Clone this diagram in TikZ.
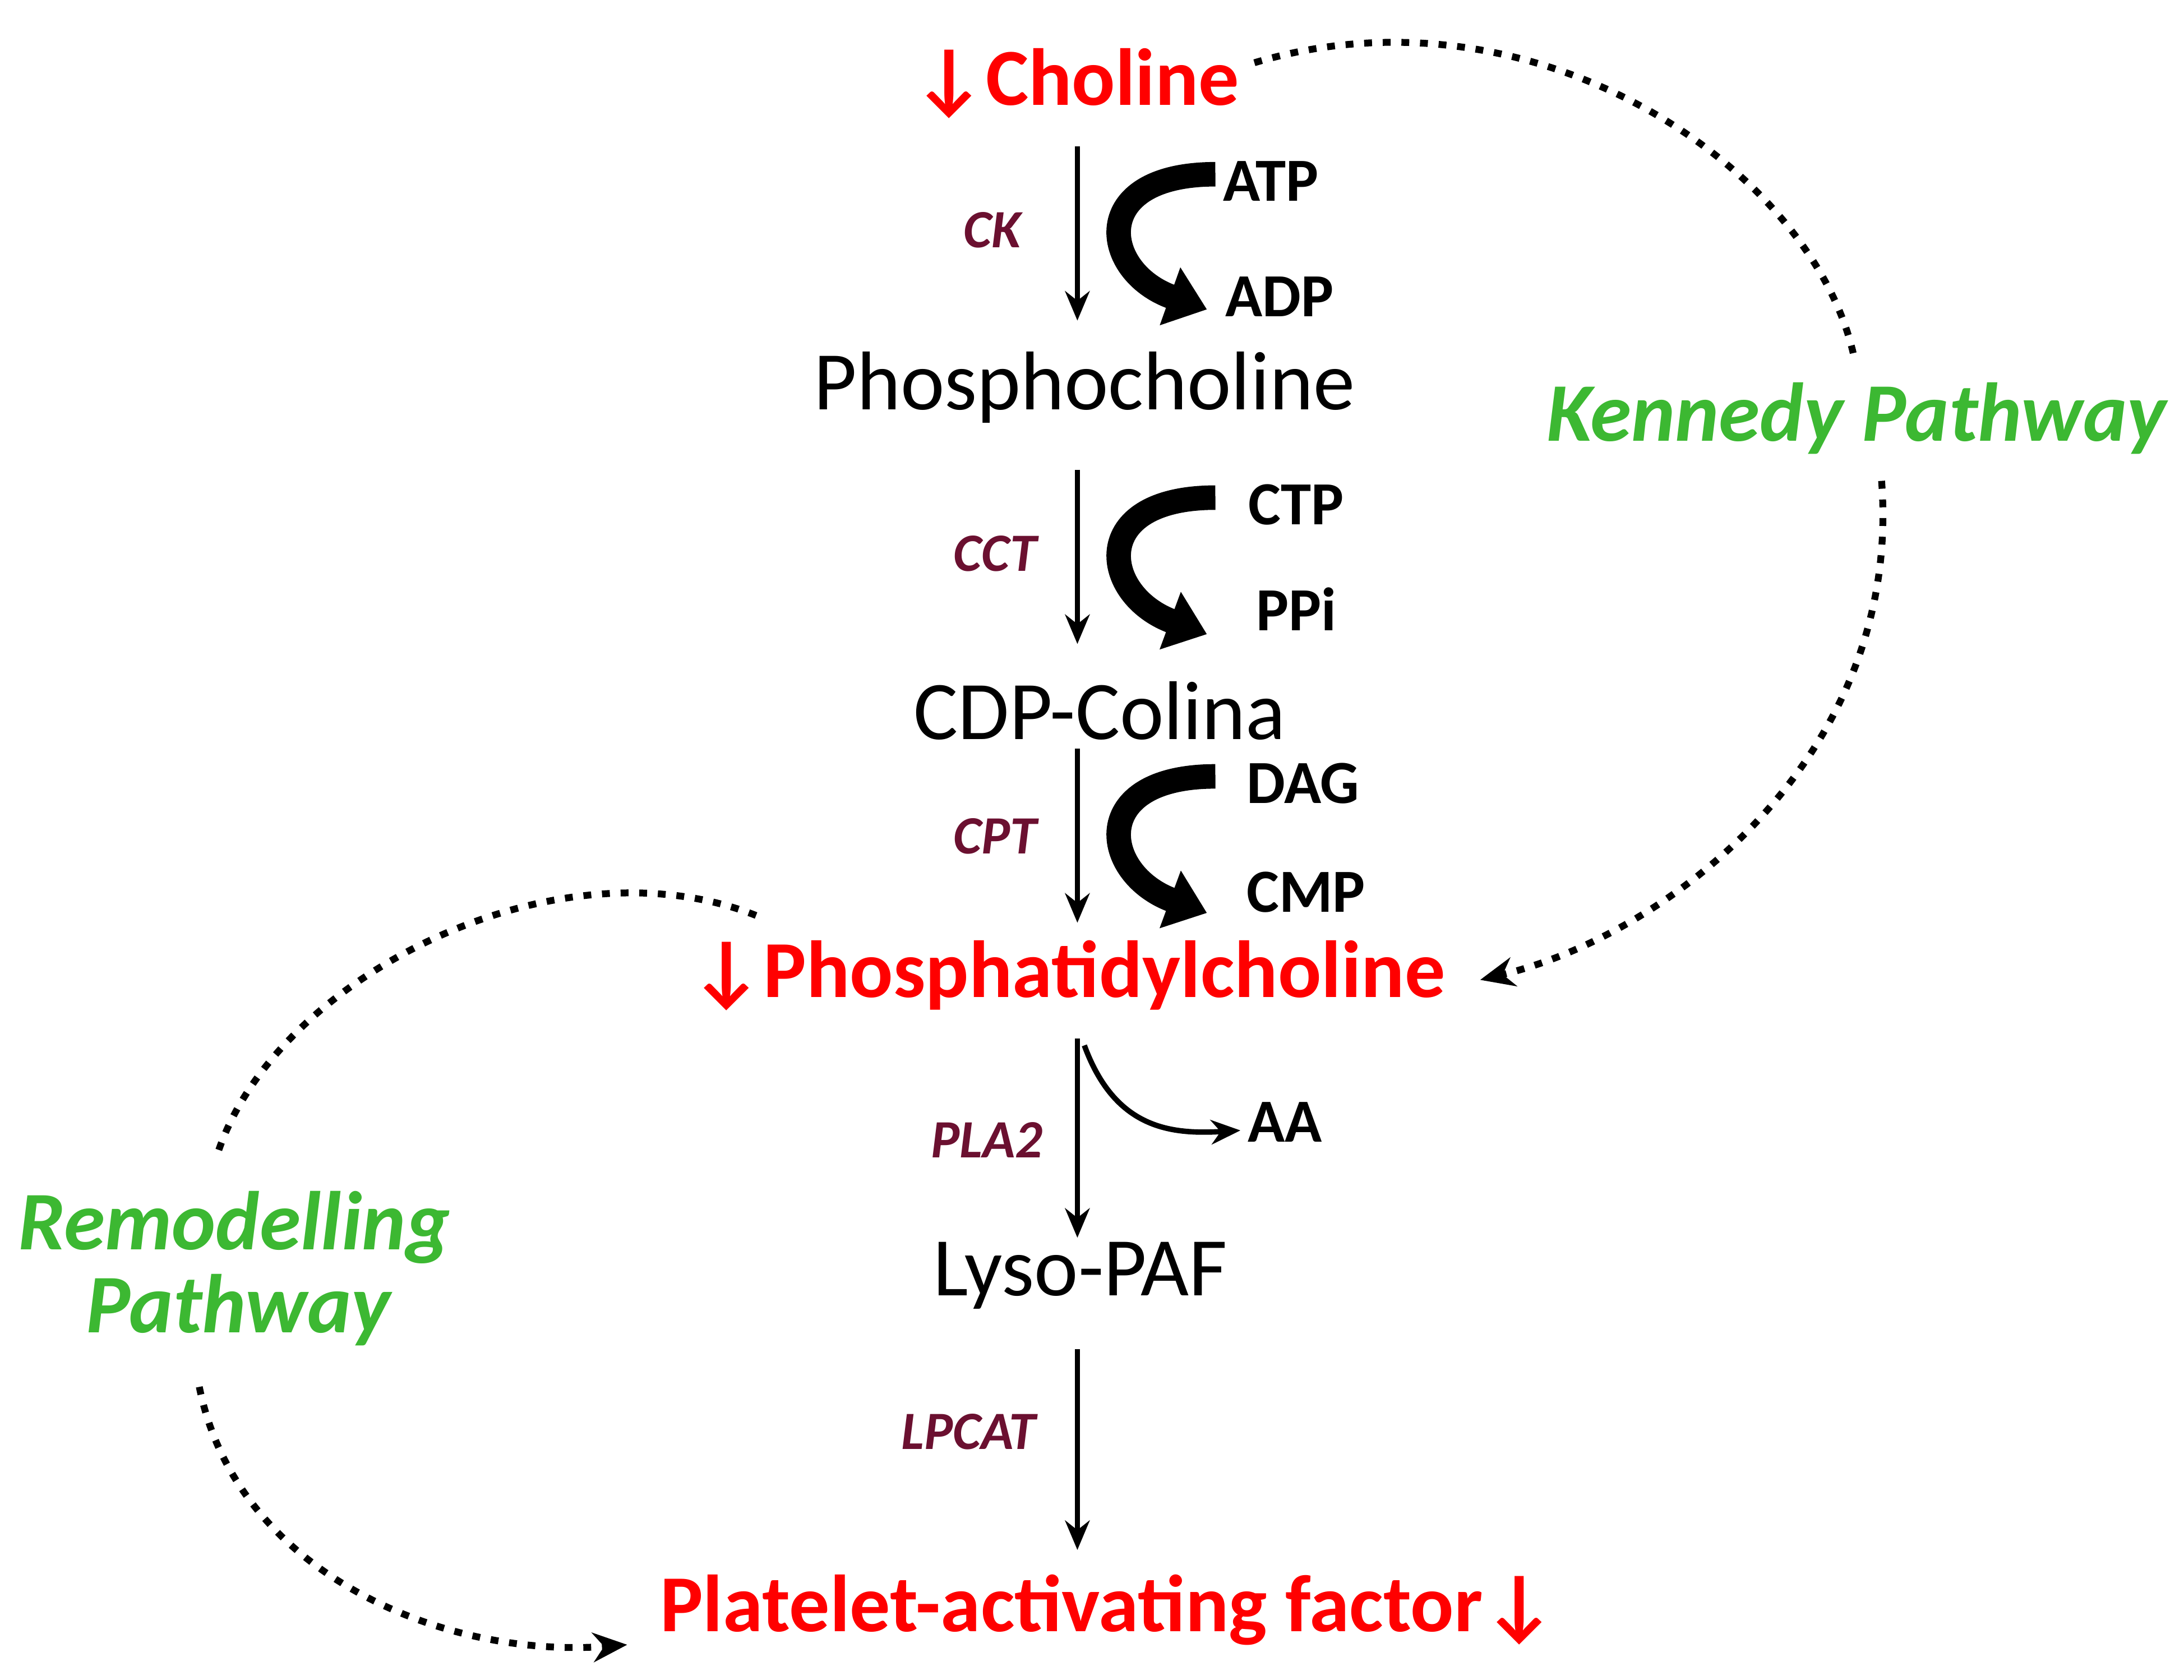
\documentclass[tikz,border=0pt]{standalone}
\usepackage{fontspec}
\setmainfont{Carlito}
\usetikzlibrary{arrows.meta}
\definecolor{enz}{HTML}{6B1030}
\definecolor{grn}{HTML}{3CB832}
\definecolor{rd}{HTML}{FF0000}
\begin{document}
\begin{tikzpicture}[x=0.01cm,y=-0.01cm,
 met/.style={font=\fontsize{17}{19}\selectfont},
 key/.style={font=\fontsize{16.5}{18}\selectfont\bfseries,text=rd},
 enzl/.style={font=\fontsize{11}{13}\selectfont\bfseries\itshape,text=enz},
 cof/.style={font=\fontsize{12.5}{14}\selectfont\bfseries},
 pathw/.style={font=\fontsize{17}{19}\selectfont\bfseries\itshape,text=grn,align=center},
 rxn/.style={-{Stealth[length=6pt,width=5pt]},line width=1.1pt},
 bigarr/.style={-{Triangle[length=8pt,width=12pt]},line width=5pt},
 dot/.style={line width=1.4pt,dash pattern=on 1.6pt off 2.2pt},
 dota/.style={dot,-{Stealth[length=7pt,width=6pt]}}]
\useasboundingbox (0,0) rectangle (1567,1205);
\node[key] (cho) at (772,60) {↓Choline};
\node[met] (pch) at (778,278) {Phosphocholine};
\node[met] (cdp) at (789,510) {CDP-Colina};
\node[key] (pc) at (766,700) {↓Phosphatidylcholine};
\node[met] (lyso) at (775,915) {Lyso-PAF};
\node[key] (paf) at (795,1155) {Platelet-activating factor↓};
\coordinate (a1) at (773,105); \coordinate (b1) at (773,230);
\coordinate (a2) at (773,337); \coordinate (b2) at (773,462);
\coordinate (a3) at (773,537); \coordinate (b3) at (773,662);
\coordinate (a4) at (773,745); \coordinate (b4) at (773,888);
\coordinate (a5) at (773,968); \coordinate (b5) at (773,1112);
\draw[rxn] (a1)--(b1); \draw[rxn] (a2)--(b2); \draw[rxn] (a3)--(b3);
\draw[rxn] (a4)--(b4); \draw[rxn] (a5)--(b5);
\node[enzl] (ck) at (712,165) {CK};
\node[enzl] (cct) at (714,397) {CCT};
\node[enzl] (cpt) at (714,600) {CPT};
\node[enzl] (pla) at (708,818) {PLA2};
\node[enzl] (lpc) at (695,1027) {LPCAT};
\node[cof] (atp) at (912,130) {ATP};
\node[cof] (adp) at (918,213) {ADP};
\node[cof] (ctp) at (930,362) {CTP};
\node[cof] (ppi) at (930,437) {PPi};
\node[cof] (dag) at (935,562) {DAG};
\node[cof] (cmp) at (937,640) {CMP};
\node[cof] (aa) at (922,805) {AA};
\foreach \y/\e in {125/222,357/455,557/655}{
 \draw[bigarr] (872,\y) .. controls (780,\y) and (790,{\y+70}) .. (866,{\e});}
\coordinate (aas) at (778,750);
\draw[-{Stealth[length=6pt,width=5pt]},line width=1.1pt] (aas) .. controls (800,810) and (840,814) .. (890,811);
\node[pathw] (ken) at (1332,300) {Kennedy Pathway};
\node[pathw] (rem) at (168,910) {Remodelling\\[-2pt]\hspace*{0.1em}Pathway};
\draw[dot] (900,45) .. controls (1100,-15) and (1300,120) .. (1330,255);
\draw[dota] (1350,345) .. controls (1365,540) and (1200,670) .. (1062,703);
\draw[dot] (157,825) .. controls (200,700) and (400,600) .. (543,657);
\draw[dota] (143,995) .. controls (170,1130) and (320,1190) .. (450,1180);
\end{tikzpicture}
\end{document}
